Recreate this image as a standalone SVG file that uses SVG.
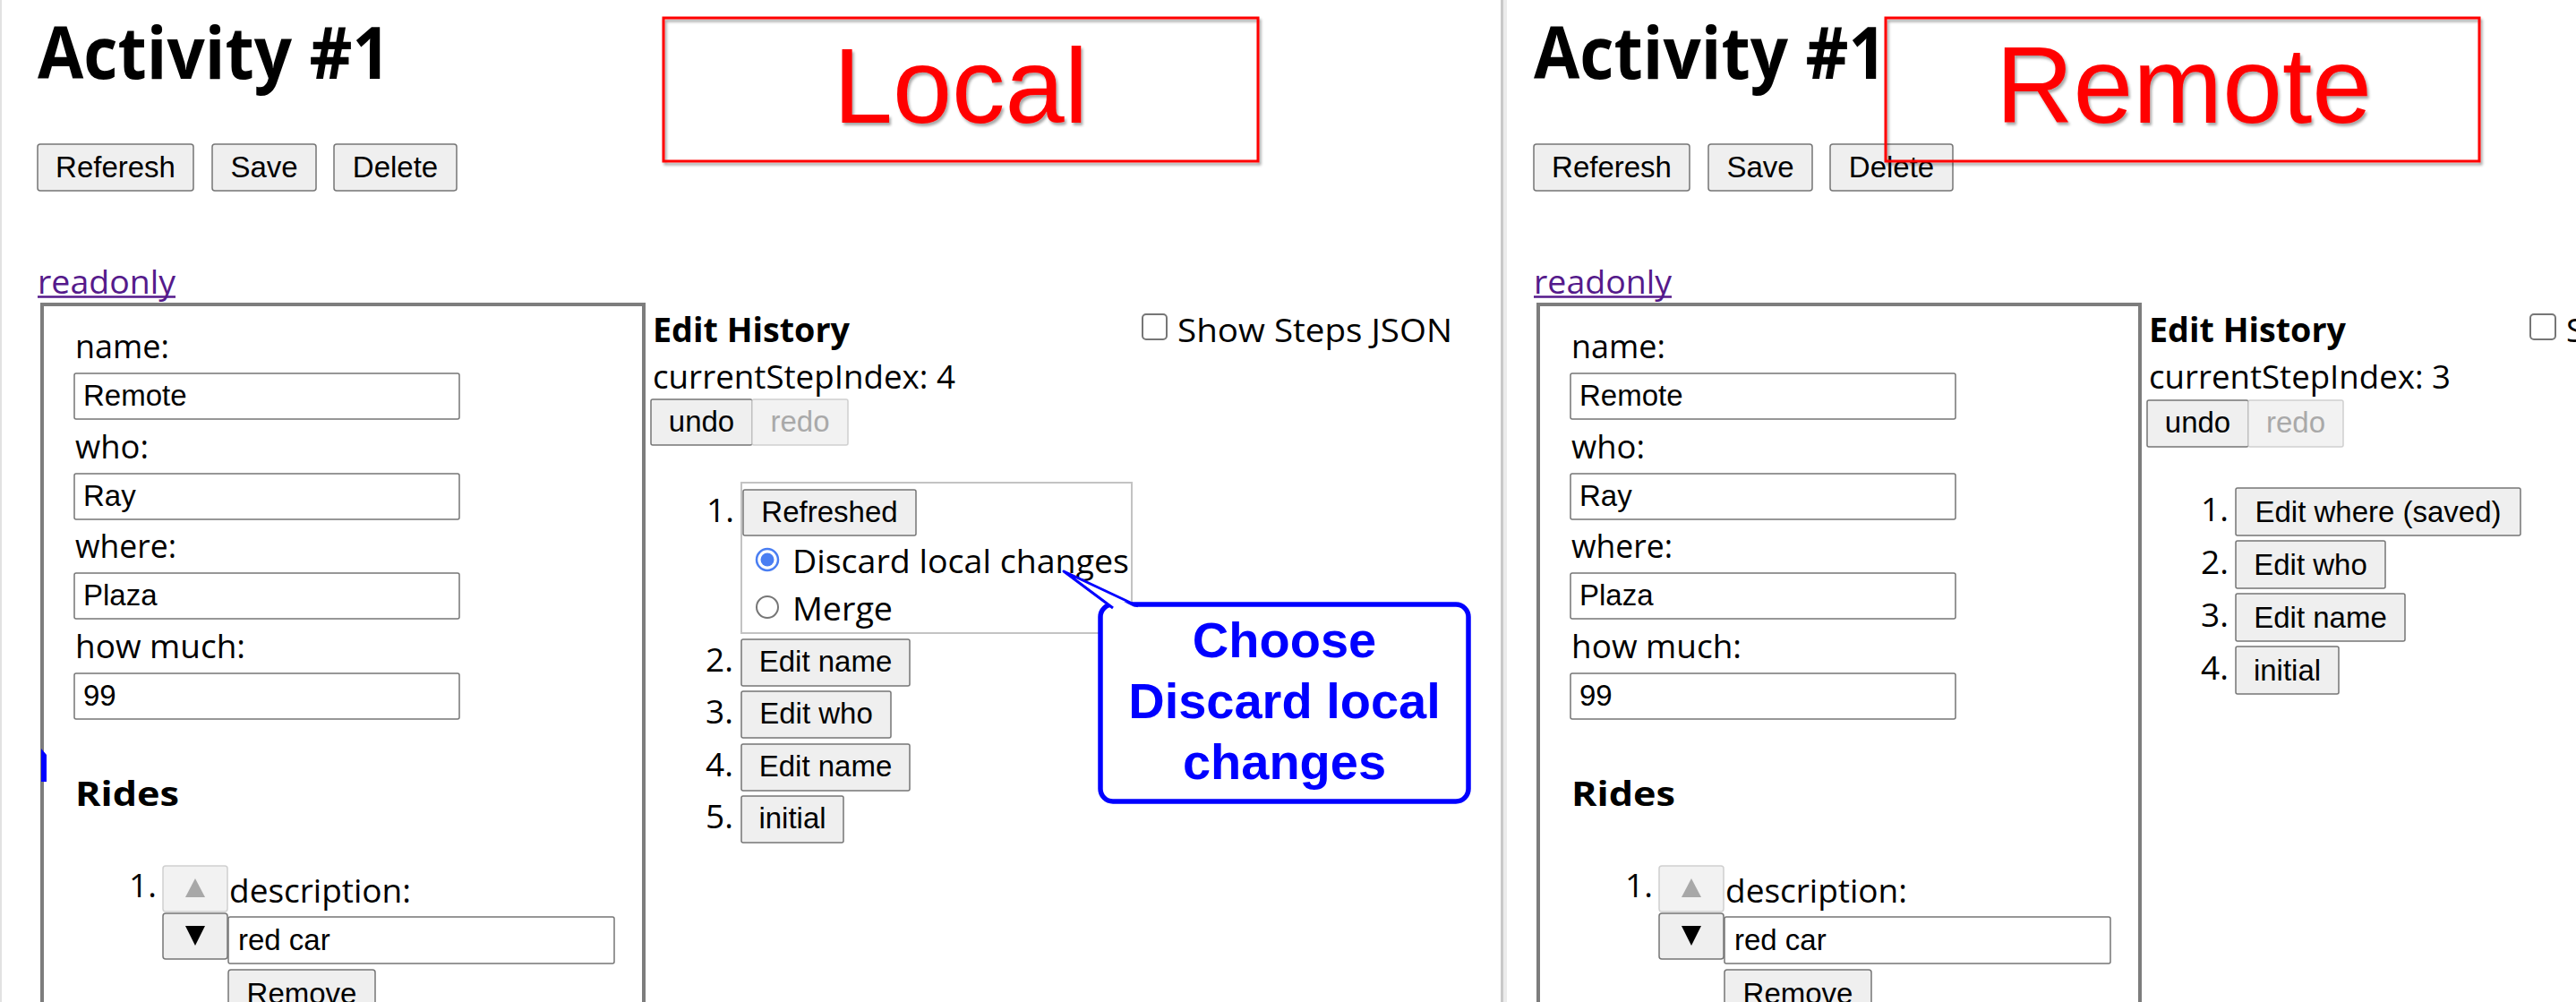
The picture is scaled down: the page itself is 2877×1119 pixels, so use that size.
<svg xmlns="http://www.w3.org/2000/svg" width="2877" height="1119" viewBox="0 0 2877 1119">
<defs>
<style>
.btn{fill:#efefef;stroke:#767676;stroke-width:1.5}
.btnd{fill:#f2f2f2;stroke:#d0d0d0;stroke-width:1.5}
.inp{fill:#fff;stroke:#767676;stroke-width:1.5}
.bt{font-family:"Liberation Sans",Arial,sans-serif;font-size:33px;fill:#000;text-anchor:middle}
.btg{fill:#a9a9a9}
.it{font-family:"Liberation Sans",Arial,sans-serif;font-size:33px;fill:#000}
.ui{font-family:"Open Sans","Noto Sans",sans-serif;font-size:37px;fill:#000}
.b{font-weight:700}
.h1{font-family:"Open Sans","Noto Sans",sans-serif;font-size:81px;font-weight:700;fill:#000}
.link{font-family:"Open Sans","Noto Sans",sans-serif;font-size:37px;fill:#551a8b}
.tag{fill:none;stroke:#ff0000;stroke-width:3}
.tagt{font-family:"Liberation Sans",Arial,sans-serif;fill:#ff0000;text-anchor:middle}
.fs{fill:none;stroke:#7d7d7d;stroke-width:4}
.call{font-family:"Liberation Sans",Arial,sans-serif;font-size:56px;font-weight:700;fill:#0000ff;text-anchor:middle}
</style>
<filter id="sh" x="-5%" y="-10%" width="110%" height="125%">
<feDropShadow dx="2" dy="3" stdDeviation="1.5" flood-color="#000" flood-opacity="0.35"/>
</filter>
</defs>
<rect x="0" y="0" width="2877" height="1119" fill="#fff"/>
<rect x="0" y="0" width="2" height="1119" fill="#e2e2e2"/>
<g id="divider">
<rect x="1676" y="0" width="3" height="1119" fill="#c9c9c9"/>
<rect x="1679" y="0" width="4" height="1119" fill="#ececec"/>
</g>

<!-- ================= LOCAL PANEL ================= -->
<g id="local-title"><text x="42" y="88" class="h1" textLength="394" lengthAdjust="spacingAndGlyphs">Activity #1</text></g>
<g id="local-btn-referesh"><rect x="42" y="161" width="174" height="52" rx="3" class="btn"/><text x="129" y="198" class="bt">Referesh</text></g>
<g id="local-btn-save"><rect x="237" y="161" width="116" height="52" rx="3" class="btn"/><text x="295" y="198" class="bt">Save</text></g>
<g id="local-btn-delete"><rect x="373" y="161" width="137" height="52" rx="3" class="btn"/><text x="441.5" y="198" class="bt">Delete</text></g>
<g id="local-tag" filter="url(#sh)"><rect x="741" y="20" width="664" height="160" class="tag"/><text x="1073" y="137" class="tagt" font-size="119">Local</text></g>
<g id="local-readonly"><text x="42" y="328" class="link" textLength="154" lengthAdjust="spacingAndGlyphs">readonly</text><line x1="42" y1="331.5" x2="196" y2="331.5" stroke="#551a8b" stroke-width="2.5"/></g>
<g id="local-form">
<rect x="47" y="340" width="672" height="820" class="fs"/>
<text x="84" y="400" class="ui" textLength="105" lengthAdjust="spacingAndGlyphs">name:</text>
<rect x="83" y="417" width="430" height="51" rx="2" class="inp"/><text x="93" y="453" class="it">Remote</text>
<text x="84" y="512" class="ui" textLength="82" lengthAdjust="spacingAndGlyphs">who:</text>
<rect x="83" y="529" width="430" height="51" rx="2" class="inp"/><text x="93" y="565" class="it">Ray</text>
<text x="84" y="623" class="ui" textLength="113" lengthAdjust="spacingAndGlyphs">where:</text>
<rect x="83" y="640" width="430" height="51" rx="2" class="inp"/><text x="93" y="676" class="it">Plaza</text>
<text x="84" y="735" class="ui" textLength="190" lengthAdjust="spacingAndGlyphs">how much:</text>
<rect x="83" y="752" width="430" height="51" rx="2" class="inp"/><text x="93" y="788" class="it">99</text>
<path d="M46,836 L52,843 L52,873 L46,873 Z" fill="#0000ff"/>
<text x="84" y="900" class="ui b" font-size="45" textLength="116" lengthAdjust="spacingAndGlyphs">Rides</text>
<text x="144" y="1002" class="ui">1.</text>
<rect x="182" y="967" width="72" height="51" rx="3" class="btnd"/><polygon points="207,1002 229,1002 218,981" fill="#a8a8a8"/>
<rect x="182" y="1020" width="72" height="51" rx="3" class="btn"/><polygon points="207,1034 229,1034 218,1056" fill="#000"/>
<text x="256" y="1008" class="ui" textLength="203" lengthAdjust="spacingAndGlyphs">description:</text>
<rect x="255" y="1024" width="431" height="52" rx="2" class="inp"/><text x="266" y="1061" class="it">red car</text>
<rect x="255" y="1083" width="164" height="60" rx="3" class="btn"/><text x="337" y="1121" class="bt">Remove</text>
</g>
<g id="local-history">
<text x="729" y="382" class="ui b" textLength="220" lengthAdjust="spacingAndGlyphs">Edit History</text>
<rect x="1276" y="351" width="27" height="28" rx="4" fill="#fff" stroke="#767676" stroke-width="2"/>
<text x="1315" y="382" class="ui" textLength="307" lengthAdjust="spacingAndGlyphs">Show Steps JSON</text>
<text x="729" y="434" class="ui" textLength="338" lengthAdjust="spacingAndGlyphs">currentStepIndex: 4</text>
<rect x="727" y="446" width="113" height="51" rx="2" class="btn"/><text x="783.5" y="482" class="bt">undo</text>
<rect x="840" y="446" width="107" height="51" rx="2" class="btnd"/><text x="893.5" y="482" class="bt btg">redo</text>
</g>
<g id="local-step-1">
<rect x="828" y="539" width="436" height="168" fill="none" stroke="#c3c3c3" stroke-width="2"/>
<text x="789" y="583" class="ui">1.</text>
<rect x="830" y="547" width="193" height="51" rx="2" class="btn"/><text x="926.5" y="583" class="bt">Refreshed</text>
<circle cx="857" cy="625" r="12" fill="#fff" stroke="#4a7ef2" stroke-width="2.5"/><circle cx="857" cy="625" r="7.5" fill="#4a7ef2"/>
<text x="885" y="640" class="ui" textLength="376" lengthAdjust="spacingAndGlyphs">Discard local changes</text>
<circle cx="857" cy="678" r="12" fill="#fff" stroke="#767676" stroke-width="2"/>
<text x="885" y="693" class="ui" textLength="112" lengthAdjust="spacingAndGlyphs">Merge</text>
</g>
<g id="local-step-2"><text x="788" y="750" class="ui">2.</text><rect x="828" y="714" width="188" height="52" rx="2" class="btn"/><text x="922" y="750" class="bt">Edit name</text></g>
<g id="local-step-3"><text x="788" y="808" class="ui">3.</text><rect x="828" y="772" width="167" height="52" rx="2" class="btn"/><text x="911.5" y="808" class="bt">Edit who</text></g>
<g id="local-step-4"><text x="788" y="867" class="ui">4.</text><rect x="828" y="831" width="188" height="52" rx="2" class="btn"/><text x="922" y="867" class="bt">Edit name</text></g>
<g id="local-step-5"><text x="788" y="925" class="ui">5.</text><rect x="828" y="889" width="114" height="52" rx="2" class="btn"/><text x="885" y="925" class="bt">initial</text></g>

<g id="callout">
<rect x="1229" y="675" width="411" height="220" rx="14" fill="#fff" stroke="#0000ff" stroke-width="5.5"/>
<polygon points="1243,680 1188,638 1271,680" fill="#fff"/>
<polyline points="1243,679 1188,638 1271,677" fill="none" stroke="#0000ff" stroke-width="3" stroke-linejoin="round"/>
<text x="1434.5" y="734" class="call">Choose</text>
<text x="1434.5" y="802" class="call">Discard local</text>
<text x="1434.5" y="870" class="call">changes</text>
</g>

<!-- ================= REMOTE PANEL ================= -->
<g id="remote-title"><text x="1713" y="88" class="h1" textLength="394" lengthAdjust="spacingAndGlyphs">Activity #1</text></g>
<g id="remote-btn-referesh"><rect x="1713" y="161" width="174" height="52" rx="3" class="btn"/><text x="1800" y="198" class="bt">Referesh</text></g>
<g id="remote-btn-save"><rect x="1908" y="161" width="116" height="52" rx="3" class="btn"/><text x="1966" y="198" class="bt">Save</text></g>
<g id="remote-btn-delete"><rect x="2044" y="161" width="137" height="52" rx="3" class="btn"/><text x="2112.5" y="198" class="bt">Delete</text></g>
<g id="remote-tag" filter="url(#sh)"><rect x="2106" y="20" width="663" height="160" class="tag"/><text x="2439" y="137" class="tagt" font-size="120">Remote</text></g>
<g id="remote-readonly"><text x="1713" y="328" class="link" textLength="154" lengthAdjust="spacingAndGlyphs">readonly</text><line x1="1713" y1="331.5" x2="1867" y2="331.5" stroke="#551a8b" stroke-width="2.5"/></g>
<g id="remote-form">
<rect x="1718" y="340" width="672" height="820" class="fs"/>
<text x="1755" y="400" class="ui" textLength="105" lengthAdjust="spacingAndGlyphs">name:</text>
<rect x="1754" y="417" width="430" height="51" rx="2" class="inp"/><text x="1764" y="453" class="it">Remote</text>
<text x="1755" y="512" class="ui" textLength="82" lengthAdjust="spacingAndGlyphs">who:</text>
<rect x="1754" y="529" width="430" height="51" rx="2" class="inp"/><text x="1764" y="565" class="it">Ray</text>
<text x="1755" y="623" class="ui" textLength="113" lengthAdjust="spacingAndGlyphs">where:</text>
<rect x="1754" y="640" width="430" height="51" rx="2" class="inp"/><text x="1764" y="676" class="it">Plaza</text>
<text x="1755" y="735" class="ui" textLength="190" lengthAdjust="spacingAndGlyphs">how much:</text>
<rect x="1754" y="752" width="430" height="51" rx="2" class="inp"/><text x="1764" y="788" class="it">99</text>
<text x="1755" y="900" class="ui b" font-size="45" textLength="116" lengthAdjust="spacingAndGlyphs">Rides</text>
<text x="1815" y="1002" class="ui">1.</text>
<rect x="1853" y="967" width="72" height="51" rx="3" class="btnd"/><polygon points="1878,1002 1900,1002 1889,981" fill="#a8a8a8"/>
<rect x="1853" y="1020" width="72" height="51" rx="3" class="btn"/><polygon points="1878,1034 1900,1034 1889,1056" fill="#000"/>
<text x="1927" y="1008" class="ui" textLength="203" lengthAdjust="spacingAndGlyphs">description:</text>
<rect x="1926" y="1024" width="431" height="52" rx="2" class="inp"/><text x="1937" y="1061" class="it">red car</text>
<rect x="1926" y="1083" width="164" height="60" rx="3" class="btn"/><text x="2008" y="1121" class="bt">Remove</text>
</g>
<g id="remote-history">
<text x="2400" y="382" class="ui b" textLength="220" lengthAdjust="spacingAndGlyphs">Edit History</text>
<rect x="2826" y="351" width="28" height="28" rx="4" fill="#fff" stroke="#767676" stroke-width="2"/>
<text x="2866" y="382" class="ui">S</text>
<text x="2400" y="434" class="ui" textLength="337" lengthAdjust="spacingAndGlyphs">currentStepIndex: 3</text>
<rect x="2398" y="447" width="113" height="52" rx="2" class="btn"/><text x="2454.5" y="483" class="bt">undo</text>
<rect x="2511" y="447" width="106" height="52" rx="2" class="btnd"/><text x="2564" y="483" class="bt btg">redo</text>
</g>
<g id="remote-step-1"><text x="2458" y="582" class="ui">1.</text><rect x="2497" y="545" width="318" height="53" rx="2" class="btn"/><text x="2656" y="583" class="bt">Edit where (saved)</text></g>
<g id="remote-step-2"><text x="2458" y="641" class="ui">2.</text><rect x="2497" y="604" width="167" height="53" rx="2" class="btn"/><text x="2580.5" y="642" class="bt">Edit who</text></g>
<g id="remote-step-3"><text x="2458" y="700" class="ui">3.</text><rect x="2497" y="663" width="189" height="53" rx="2" class="btn"/><text x="2591.5" y="701" class="bt">Edit name</text></g>
<g id="remote-step-4"><text x="2458" y="759" class="ui">4.</text><rect x="2497" y="722" width="115" height="53" rx="2" class="btn"/><text x="2554.5" y="760" class="bt">initial</text></g>
<g id="connectors"></g>
</svg>
